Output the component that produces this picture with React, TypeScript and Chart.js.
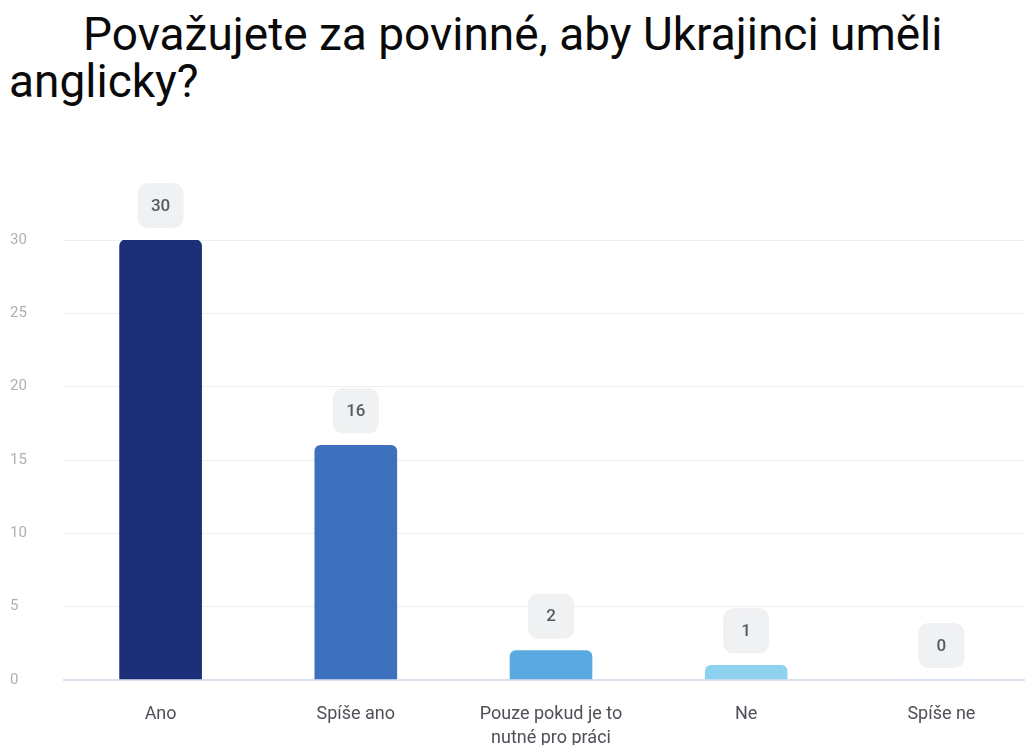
import React, { useEffect, useRef } from "react";
import { Chart, registerables } from "chart.js";

Chart.register(...registerables);

const titleLine1 = "Považujete za povinné, aby Ukrajinci uměli";
const titleLine2 = "anglicky?";
const categories: (string | string[])[] = ["Ano", "Spíše ano", ["Pouze pokud je to", "nutné pro práci"], "Ne", "Spíše ne"];
const values = [30, 16, 2, 1, 0];
const barColors = ["#1b2f78", "#3e71bd", "#5aa9e0", "#8fd2ef", "#c4e8f7"];
const yTicks = [0, 5, 10, 15, 20, 25, 30];

const valueBoxes = {
  id: "valueBoxes",
  afterDatasetsDraw(chart: any) {
    const ctx = chart.ctx;
    const meta = chart.getDatasetMeta(0);
    meta.data.forEach((bar: any, i: number) => {
      const w = 46, h = 45, r = 10;
      const cx = bar.x;
      const bottom = bar.y - 12;
      const x = cx - w / 2, y = bottom - h;
      ctx.save();
      ctx.fillStyle = "#f0f1f3";
      ctx.beginPath();
      ctx.roundRect(x, y, w, h, r);
      ctx.fill();
      ctx.fillStyle = "#555a63";
      ctx.font = "500 17px Roboto";
      ctx.textAlign = "center";
      ctx.textBaseline = "middle";
      ctx.fillText(String(values[i]), cx, y + h / 2 + 1);
      ctx.restore();
    });
  },
};

export default function App() {
  const ref = useRef<HTMLCanvasElement>(null);
  useEffect(() => {
    document.body.style.margin = "0";
    document.body.style.overflow = "hidden";
    const chart = new Chart(ref.current!, {
      type: "bar",
      data: {
        labels: categories,
        datasets: [
          {
            data: values,
            backgroundColor: barColors,
            borderRadius: { topLeft: 6, topRight: 6, bottomLeft: 0, bottomRight: 0 },
            borderSkipped: "bottom",
            barThickness: 82,
          },
        ],
      },
      options: {
        animation: false,
        responsive: false,
        layout: { padding: { left: 10, right: 6, top: 90, bottom: 0 } },
        plugins: { legend: { display: false }, tooltip: { enabled: false }, title: { display: false } },
        scales: {
          x: {
            grid: { display: false },
            border: { display: false },
            ticks: {
              color: "#4d5057",
              font: { family: "Roboto", size: 18, lineHeight: 1.35 },
              padding: 14,
              maxRotation: 0,
              autoSkip: false,
            },
            afterFit: (s: any) => { s.height = 65; },
          },
          y: {
            min: 0,
            max: 30,
            afterBuildTicks: (s: any) => { s.ticks = yTicks.map((v) => ({ value: v })); },
            border: { display: false },
            grid: {
              drawTicks: false,
              color: (c: any) => (c.tick && c.tick.value === 0 ? "#dcdfec" : "#eceef2"),
              lineWidth: (c: any) => (c.tick && c.tick.value === 0 ? 2 : 1),
            },
            ticks: {
              color: "#adb0b6",
              font: { family: "Roboto", size: 15 },
              crossAlign: "far",
            },
            afterFit: (s: any) => { s.width = 53; },
          },
        },
      },
      plugins: [valueBoxes],
    });
    return () => chart.destroy();
  }, []);

  return (
    <div style={{ position: "absolute", left: 0, top: 0, width: 1025, height: 745, overflow: "hidden", background: "#fff" }}>
      <div
        style={{
          position: "absolute",
          left: 9,
          top: 11,
          fontFamily: "Roboto, 'Liberation Sans', sans-serif",
          fontSize: 46,
          lineHeight: "47px",
          color: "#0a0a0a",
          whiteSpace: "nowrap",
        }}
      >
        <div style={{ paddingLeft: 74 }}>{titleLine1}</div>
        <div>{titleLine2}</div>
      </div>
      <canvas ref={ref} width={1045} height={595} style={{ position: "absolute", left: 0, top: 150, width: 1045, height: 595 }} />
    </div>
  );
}
